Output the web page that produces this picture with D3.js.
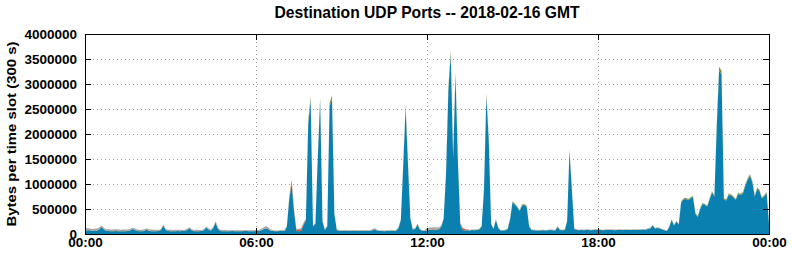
<!DOCTYPE html>
<html>
<head>
<meta charset="utf-8">
<script src="https://d3js.org/d3.v7.min.js"></script>
<style>
  body { margin: 0; background: #fff; }
  svg { display: block; font-family: 'Liberation Sans', Arial, sans-serif; font-weight: bold; }
</style>
</head>
<body>
<svg width="792" height="259"></svg>
<script>
// one value per 5 minute slot (289 slots, 00:00 .. 00:00), in thousands of bytes
var xTickSlots = [0, 72, 144, 216, 288];
var xTickLabels = ["00:00", "06:00", "12:00", "18:00", "00:00"];
var yTicks = [0, 500000, 1000000, 1500000, 2000000, 2500000, 3000000, 3500000, 4000000];
var seriesKeys = ["main", "second", "third", "other"];
var seriesColors = ["#0a80b0", "#808c30", "#d04418", "#a4a4a4"];

var main = [
  80,70,75,60,70,65,90,140,90,60,58,55,
  55,58,55,56,55,57,60,70,100,80,58,55,
  55,60,90,60,55,56,55,58,80,165,80,58,
  55,56,55,60,56,58,60,80,115,70,56,55,
  55,58,70,130,90,65,120,230,100,60,56,55,
  55,56,58,55,57,55,56,58,60,56,55,57,
  60,62,70,90,110,100,70,60,55,55,58,62,
  60,150,700,1000,450,60,55,60,180,280,2200,2680,
  150,200,1500,2660,250,80,150,2560,2700,400,80,65,
  60,62,65,60,58,66,62,60,58,60,62,60,
  62,75,95,70,60,58,56,58,60,62,60,65,
  120,280,1380,2520,1380,300,90,100,190,90,60,60,
  70,80,80,85,80,90,150,300,1180,2860,3580,1520,
  3170,1470,200,80,70,75,72,78,75,80,90,150,
  880,2750,1870,200,100,280,120,70,70,75,100,300,
  630,590,530,460,570,580,540,150,80,75,72,70,
  72,75,70,74,78,75,72,140,80,75,80,250,
  1650,880,100,78,75,80,76,82,78,75,80,85,
  78,80,75,78,82,80,78,76,80,82,78,80,
  82,80,78,85,80,82,85,90,85,100,110,170,
  110,120,110,90,75,60,140,280,170,250,190,630,
  690,700,680,710,740,410,340,500,600,580,550,690,
  830,750,2150,3270,3190,690,670,780,770,730,680,800,
  780,810,960,1080,1160,1030,750,900,860,710,750,820,
  210
];

var second = [
  5,5,5,4,5,4,6,8,6,4,4,4,
  4,4,4,4,4,4,4,5,6,5,4,4,
  4,4,6,4,4,4,4,4,5,8,5,4,
  4,4,4,4,4,4,4,5,6,4,4,4,
  4,4,5,6,5,4,6,10,5,4,4,4,
  4,4,4,4,4,4,4,4,4,4,4,4,
  4,4,5,5,6,5,4,4,4,4,4,4,
  4,8,25,30,15,4,4,4,8,10,60,70,
  8,8,40,70,10,5,8,60,70,15,5,4,
  4,4,4,4,4,4,4,4,4,4,4,4,
  4,4,6,4,4,4,4,4,4,4,4,4,
  6,10,35,60,35,10,5,5,8,5,4,4,
  4,4,4,4,4,4,6,10,30,70,80,40,
  70,40,8,4,4,4,4,4,4,4,5,6,
  25,60,45,8,5,10,5,4,4,4,5,10,
  18,16,15,13,15,16,15,6,4,4,4,4,
  4,4,4,4,4,4,4,6,4,4,4,8,
  40,25,5,4,4,4,4,4,4,4,4,4,
  4,4,4,4,4,4,4,4,4,4,4,4,
  4,4,4,4,4,4,4,4,4,5,5,7,
  5,5,5,4,4,4,6,8,6,7,6,16,
  18,18,17,18,19,12,10,14,16,15,14,18,
  22,20,50,70,70,18,18,20,20,19,18,20,
  20,21,25,28,30,27,20,23,22,19,20,21,
  8
];

var third = [
  0,0,0,0,0,0,0,0,0,0,0,0,
  0,0,0,0,0,0,0,0,0,0,0,0,
  0,0,0,0,0,0,0,0,0,0,0,0,
  0,0,0,0,0,0,0,0,0,0,0,0,
  0,0,0,0,0,0,0,0,0,0,0,0,
  0,0,0,0,0,0,0,0,0,0,0,0,
  0,0,0,0,0,0,0,0,0,0,0,0,
  0,0,5,50,20,25,28,30,20,5,0,0,
  0,0,0,0,0,0,0,0,0,0,0,0,
  0,0,0,0,0,0,0,0,0,0,0,0,
  0,0,0,0,0,0,0,0,0,0,0,0,
  0,0,0,0,0,0,0,0,0,0,0,0,
  5,5,5,5,5,5,0,0,0,0,0,0,
  0,0,5,30,20,5,0,0,0,0,0,0,
  0,0,0,0,0,0,0,0,0,0,0,0,
  0,0,0,0,0,0,0,0,0,0,0,0,
  0,0,0,0,0,0,0,5,0,0,0,0,
  0,0,0,6,0,0,0,0,0,0,0,0,
  0,0,0,0,0,0,0,0,0,0,0,0,
  0,0,0,0,0,0,0,0,0,0,0,0,
  0,0,0,0,0,0,0,0,0,0,0,0,
  0,0,0,0,0,0,0,0,0,0,0,0,
  0,0,0,0,0,0,0,0,0,0,0,0,
  0,0,0,0,0,0,0,0,0,0,0,0,
  0
];

var other = [
  35,40,30,35,30,40,35,20,25,30,35,30,
  30,35,30,25,30,30,25,25,20,25,30,25,
  25,30,20,25,30,25,25,20,20,15,20,25,
  25,20,25,20,25,20,20,20,15,20,20,25,
  20,20,20,15,20,20,20,15,20,20,20,20,
  15,15,15,15,15,15,15,15,15,15,15,15,
  15,15,20,30,40,35,20,15,12,12,12,12,
  12,10,10,10,10,15,20,20,15,10,10,10,
  10,10,10,10,10,10,10,10,10,10,10,10,
  12,12,12,12,12,12,12,12,12,12,12,12,
  12,15,15,12,12,12,12,12,12,12,12,12,
  10,10,10,10,10,10,10,10,10,10,12,15,
  35,40,40,40,40,35,15,10,10,10,10,10,
  10,10,10,10,10,10,10,10,10,10,10,10,
  8,8,8,8,8,8,8,8,8,8,8,8,
  8,8,8,8,8,8,8,8,8,8,8,8,
  8,8,8,8,8,8,8,8,8,8,8,8,
  8,8,8,8,8,8,8,8,8,8,8,8,
  8,8,8,8,8,8,8,8,8,8,8,8,
  8,8,8,8,8,8,8,8,8,8,8,8,
  8,8,8,8,8,8,8,8,8,8,8,8,
  8,8,8,8,8,8,8,8,8,8,8,8,
  8,8,8,8,8,8,8,8,8,8,8,8,
  8,8,8,8,8,8,8,8,8,8,8,8,
  8
];

var svg = d3.select("svg");
var plotL = 85, plotR = 769, plotT = 34, plotB = 234;

var rows = main.map(function(v, i) {
  return { slot: i, main: v * 1000, second: second[i] * 1000,
           third: third[i] * 1000, other: other[i] * 1000 };
});

var x = d3.scaleLinear().domain([0, 288]).range([plotL, plotR]);
var y = d3.scaleLinear().domain([0, 4000000]).range([plotB, plotT]);

// dotted grid
var grid = svg.append("g").attr("stroke", "#a0a0a0").attr("stroke-dasharray", "1,3");
grid.selectAll(".hy").data(yTicks.slice(1, -1)).enter().append("line")
  .attr("x1", plotL).attr("x2", plotR)
  .attr("y1", function(d) { return Math.round(y(d)) + 0.5; })
  .attr("y2", function(d) { return Math.round(y(d)) + 0.5; });
grid.selectAll(".vx").data(xTickSlots.slice(1, -1)).enter().append("line")
  .attr("y1", plotT).attr("y2", plotB)
  .attr("x1", function(d) { return Math.round(x(d)) + 0.5; })
  .attr("x2", function(d) { return Math.round(x(d)) + 0.5; });

// stacked areas
var stack = d3.stack().keys(seriesKeys);
var layers = stack(rows);
var area = d3.area()
  .x(function(d) { return x(d.data.slot); })
  .y0(function(d) { return y(d[0]); })
  .y1(function(d) { return y(d[1]); });

svg.append("g").selectAll("path").data(layers).enter().append("path")
  .attr("d", area)
  .attr("fill", function(d, i) { return seriesColors[i]; });

// axes with inward ticks
var fmt = function(d) { return String(d); };
svg.append("g").attr("transform", "translate(" + plotL + ",0)")
  .call(d3.axisLeft(y).tickValues(yTicks).tickSize(-6).tickPadding(8).tickFormat(fmt));
svg.append("g").attr("transform", "translate(" + plotR + ",0)")
  .call(d3.axisRight(y).tickValues(yTicks).tickSize(-6).tickFormat(""));
svg.append("g").attr("transform", "translate(0," + plotB + ")")
  .call(d3.axisBottom(x).tickValues(xTickSlots).tickSize(-6).tickPadding(3)
    .tickFormat(function(d, i) { return xTickLabels[i]; }));
svg.append("g").attr("transform", "translate(0," + plotT + ")")
  .call(d3.axisTop(x).tickValues(xTickSlots).tickSize(-6).tickFormat(""));

svg.selectAll(".domain").remove();
svg.selectAll(".tick line").attr("stroke", "#000");
svg.selectAll(".tick text")
  .attr("fill", "#000")
  .style("font-family", "'Liberation Sans', Arial, sans-serif")
  .style("font-weight", "bold")
  .style("font-size", "13.5px");

// frame
svg.append("rect")
  .attr("x", plotL + 0.5).attr("y", plotT + 0.5)
  .attr("width", plotR - plotL).attr("height", plotB - plotT)
  .attr("fill", "none").attr("stroke", "#000");

svg.append("text")
  .attr("x", (plotL + plotR) / 2).attr("y", 18)
  .attr("text-anchor", "middle")
  .attr("textLength", 305).attr("lengthAdjust", "spacingAndGlyphs")
  .style("font-size", "17px")
  .text("Destination UDP Ports -- 2018-02-16 GMT");

svg.append("text")
  .attr("transform", "translate(16," + ((plotT + plotB) / 2) + ") rotate(-90)")
  .attr("text-anchor", "middle")
  .attr("textLength", 185).attr("lengthAdjust", "spacingAndGlyphs")
  .style("font-size", "13.5px")
  .text("Bytes per time slot (300 s)");
</script>
</body>
</html>
